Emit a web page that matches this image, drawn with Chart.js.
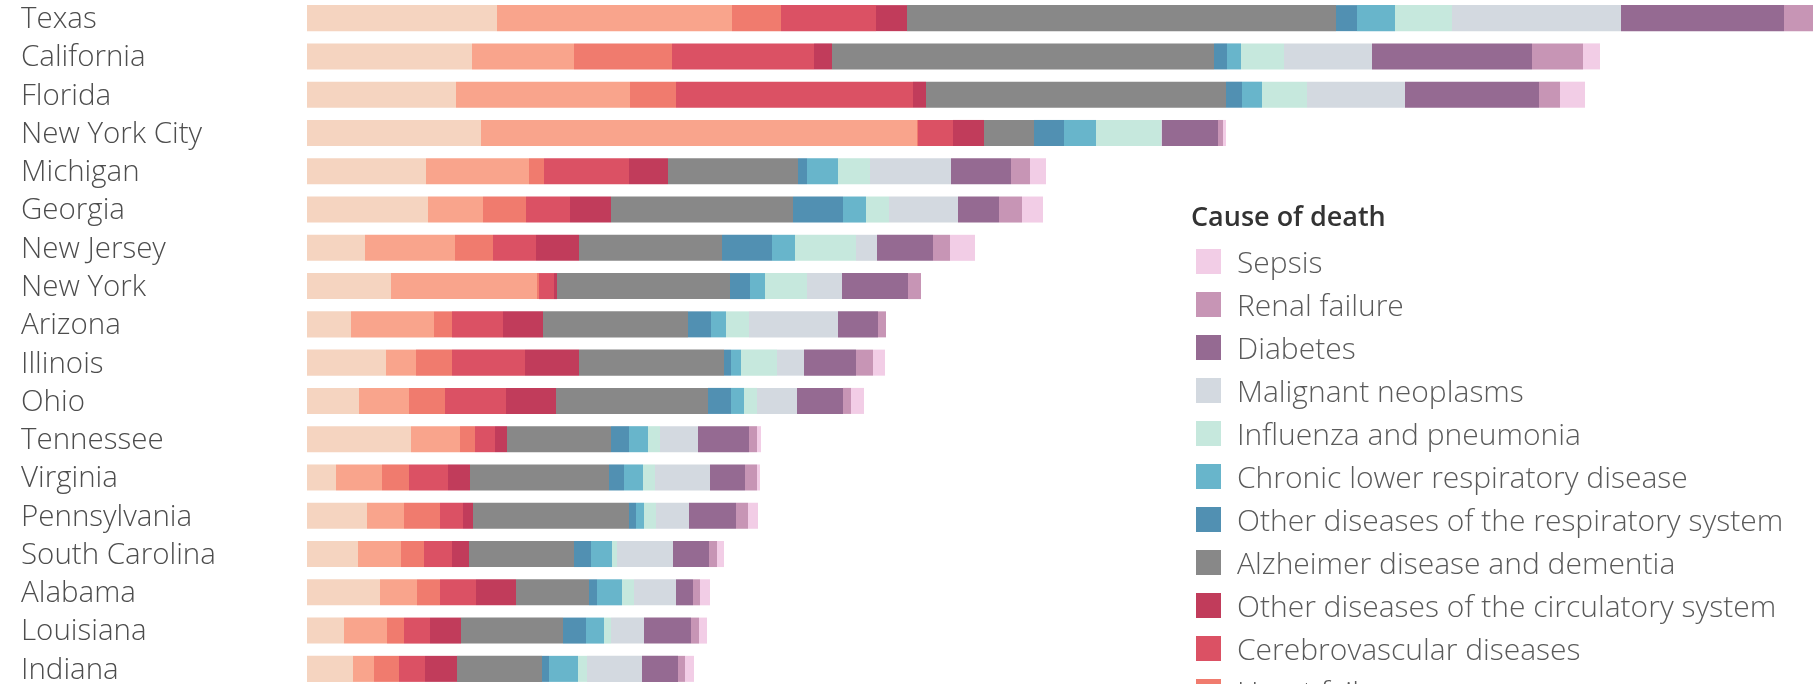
<!DOCTYPE html>
<html>
<head>
<meta charset="utf-8">
<title>Cause of death by state</title>
<script src="https://cdn.jsdelivr.net/npm/chart.js@4.4.1/dist/chart.umd.min.js"></script>
<style>
  html,body{margin:0;padding:0;background:#fff;overflow:hidden;}
  body{width:1813px;height:684px;position:relative;font-family:'Open Sans',sans-serif;}
  #wrap{position:absolute;left:0;top:-1px;width:1813px;height:689px;}
  #legend{position:absolute;left:1191px;top:0;width:620px;}
  .lg-title{position:absolute;left:0;top:197px;font-size:27px;font-weight:600;color:#333;white-space:nowrap;line-height:38px;}
  .lg-items{position:absolute;left:5px;top:239.5px;}
  .lg-item{height:43.1px;display:flex;align-items:center;white-space:nowrap;font-size:30px;font-weight:300;color:#5a5a5a;}
  .lg-sw{width:25px;height:25px;margin-right:16px;flex:none;}
</style>
</head>
<body>
<div id="wrap"><canvas id="chart"></canvas></div>
<div id="legend">
  <div class="lg-title">Cause of death</div>
  <div class="lg-items" id="lg-items"></div>
</div>
<script>
/* Stacked bars: deaths by cause, per state */

const STATES = ["Texas","California","Florida","New York City","Michigan","Georgia","New Jersey","New York",
    "Arizona","Illinois","Ohio","Tennessee","Virginia","Pennsylvania","South Carolina","Alabama","Louisiana","Indiana"];

// one list per cause, in stacking order (left to right)
const hypertensive     = [190,165,149,174,119,121, 58, 84, 44, 79, 52,104, 29, 60, 51, 73, 37, 46];
const ischemic         = [235,102,174,436,103, 55, 90,146, 83, 30, 50, 49, 46, 37, 43, 37, 43, 21];
const heartFailure     = [ 49, 98, 46,  1, 15, 43, 38,  2, 18, 36, 36, 15, 27, 36, 23, 23, 17, 25];
const cerebrovascular  = [ 95,142,237, 35, 85, 44, 43, 15, 51, 73, 61, 20, 39, 23, 28, 36, 26, 26];
const otherCirculatory = [ 31, 18, 13, 31, 39, 41, 43,  3, 40, 54, 50, 12, 22, 10, 17, 40, 31, 32];
const alzheimer        = [429,382,300, 50,130,182,143,173,145,145,152,104,139,156,105, 73,102, 85];
const otherRespiratory = [ 21, 13, 16, 30,  9, 50, 50, 20, 23,  7, 23, 18, 15,  7, 17,  8, 23,  7];
const chronicLower     = [ 38, 14, 20, 32, 31, 23, 23, 15, 15, 10, 13, 19, 19,  8, 21, 25, 18, 29];
const influenza        = [ 57, 43, 45, 65, 32, 23, 61, 42, 23, 36, 13, 12, 12, 12,  5, 12,  7,  9];
const malignant        = [169, 88, 98,  1, 81, 69, 21, 35, 89, 27, 40, 38, 55, 33, 56, 42, 33, 55];
const diabetes         = [163,160,134, 56, 60, 41, 56, 66, 40, 52, 46, 51, 35, 47, 36, 17, 47, 36];
const renal            = [ 34, 51, 21,  5, 19, 23, 17, 13,  8, 17,  8,  8, 12, 12,  8,  7,  8,  7];
const sepsis           = [ 18, 17, 25,  3, 16, 21, 25,  0,  0, 12, 13,  4,  3, 10,  7, 10,  8,  9];

const CAUSES = ["Hypertensive diseases","Ischemic heart disease","Heart failure","Cerebrovascular diseases",
    "Other diseases of the circulatory system","Alzheimer disease and dementia","Other diseases of the respiratory system",
    "Chronic lower respiratory disease","Influenza and pneumonia","Malignant neoplasms","Diabetes","Renal failure","Sepsis"];
const SERIES = [hypertensive,ischemic,heartFailure,cerebrovascular,otherCirculatory,alzheimer,otherRespiratory,
    chronicLower,influenza,malignant,diabetes,renal,sepsis];
const COLORS = ["#f5d4c0","#f9a48c","#f07b6e","#db5164","#c13c5b","#888888","#5190b2",
    "#68b5cb","#c6e8dd","#d3d9e0","#956a92","#c795b5","#f2cde6"];

// ── Chart ───────────────────────────────────────────────────────────────────
const datasets = CAUSES.map((c,i)=>({
    label:c, data:SERIES[i], backgroundColor:COLORS[i], borderWidth:0,
    barPercentage:.68, categoryPercentage:1
}));

new Chart(document.getElementById("chart"),{
    type:"bar",
    data:{labels:STATES, datasets},
    options:{
        indexAxis:"y",
        responsive:true, maintainAspectRatio:false, animation:false,
        layout:{padding:{left:21,right:0,top:0,bottom:0}},
        plugins:{legend:{display:false}, tooltip:{enabled:true}},
        scales:{
            x:{stacked:true, min:0, max:1506, display:false},
            y:{stacked:true,
               grid:{display:false}, border:{display:false},
               // fixed label column, and no half-label padding top/bottom
               afterFit:s=>{ s.width = 286; s.paddingTop = 0; s.paddingBottom = 0; },
               ticks:{autoSkip:false, crossAlign:"far", padding:0, labelOffset:1.5, color:"#4d4d4d",
                      font:{family:"'Open Sans',sans-serif", size:29.5, weight:"300"}}}
        }
    }
});

// ── Legend (reverse of stack order) ─────────────────────────────────────────
const lg = document.getElementById("lg-items");
for(let i=CAUSES.length-1;i>=0;i--){
    const row = document.createElement("div");
    row.className = "lg-item";
    const sw = document.createElement("span");
    sw.className = "lg-sw";
    sw.style.background = COLORS[i];
    row.appendChild(sw);
    row.appendChild(document.createTextNode(CAUSES[i]));
    lg.appendChild(row);
}
</script>
</body>
</html>
